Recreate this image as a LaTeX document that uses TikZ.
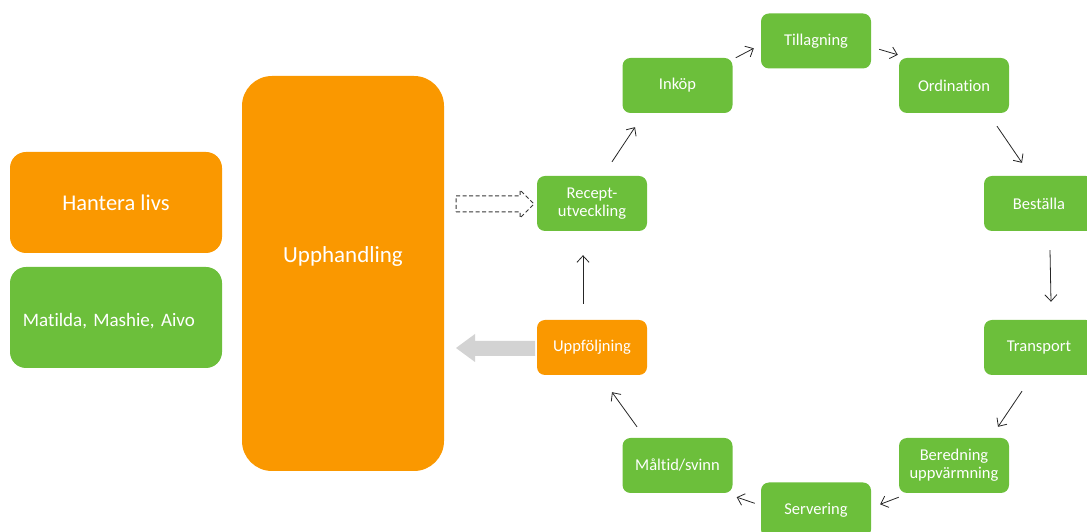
\documentclass[tikz,border=0pt]{standalone}
\usepackage{fontspec}
\setmainfont{Carlito}[Ligatures=NoCommon]
\usetikzlibrary{arrows.meta}
\definecolor{org}{RGB}{250,152,0}
\definecolor{grn}{RGB}{108,191,59}
\definecolor{lgray}{RGB}{211,211,211}
\definecolor{dgray}{RGB}{55,55,55}
\tikzset{
  box/.style={rounded corners=8pt, text=white, minimum width=110pt, minimum height=55pt, inner sep=0pt, align=center, font=\fontsize{16.5}{18}\selectfont},
  gbox/.style={box, fill=grn},
  obox/.style={box, fill=org},
  bigbox/.style={rounded corners=16pt, text=white, minimum width=212pt, minimum height=101pt, inner sep=0pt},
  arr/.style={draw=black!85, line width=0.8pt, -{Straight Barb[length=6.5pt,width=12pt,line width=0.8pt]}}
}
\begin{document}
\begin{tikzpicture}[x=1pt,y=1pt]
\useasboundingbox (0,0) rectangle (1087,532);
\clip (0,0) rectangle (1087,532);
% left boxes
\node[bigbox, fill=org, font=\fontsize{22.5}{26}\selectfont] (hant) at (116,329.5) {Hantera livs};
\node[bigbox, fill=grn, font=\fontsize{19}{22}\selectfont, text width=186pt, align=left] (mat) at (116,214.5) {\frenchspacing\raisebox{-9.5pt}[0pt][0pt]{Matilda, Mashie, Aivo}};
\node[rounded corners=30pt, fill=org, minimum width=202pt, minimum height=395pt, inner sep=0pt] (upph) at (343,258.5) {};
\node[text=white, font=\fontsize{23}{26}\selectfont, inner sep=0pt] (upphl) at (343,276) {Upphandling};
% cycle
\node[gbox] (rec) at (592,328.5) {Recept-\\utveckling};
\node[obox] (upf) at (592,184.5) {Uppföljning};
\node[gbox] (ink) at (677.5,446.5) {Inköp};
\node[gbox] (til) at (816,491) {Tillagning};
\node[gbox] (ord) at (954,446.5) {Ordination};
\node[gbox] (bes) at (1039,328.5) {Beställa};
\node[gbox] (tra) at (1039,184.5) {Transport};
\node[gbox] (ber) at (954,66.5) {Beredning\\uppvärmning};
\node[gbox] (ser) at (816,22) {Servering};
\node[gbox] (mal) at (677.5,66.5) {Måltid/svinn};
% connectors
\draw[arr] ([xshift=20pt,yshift=14pt]rec.north) -- ([xshift=-42.5pt,yshift=-14pt]ink.south);
\draw[arr] ([xshift=3pt,yshift=0pt]ink.north east) -- ([xshift=-7pt,yshift=-35pt]til.north west);
\draw[arr] ([xshift=8pt,yshift=-36pt]til.north east) -- ([xshift=-1pt,yshift=3pt]ord.north west);
\draw[arr] ([xshift=43pt,yshift=-13pt]ord.south) -- ([xshift=-17pt,yshift=13pt]bes.north);
\draw[arr] ([xshift=11pt,yshift=-19pt]bes.south) -- ([xshift=12pt,yshift=18pt]tra.north);
\draw[arr] ([xshift=-17pt,yshift=-16pt]tra.south) -- ([xshift=44pt,yshift=11pt]ber.north);
\draw[arr] ([xshift=0pt,yshift=-4pt]ber.south west) -- ([xshift=9pt,yshift=-22pt]ser.north east);
\draw[arr] ([xshift=-6pt,yshift=-21pt]ser.north west) -- ([xshift=4pt,yshift=-4pt]mal.south east);
\draw[arr] ([xshift=-40.5pt,yshift=11pt]mal.north) -- ([xshift=20pt,yshift=-17pt]upf.south);
\draw[arr] ([xshift=-9pt,yshift=16pt]upf.north) -- ([xshift=-9pt,yshift=-24pt]rec.south);
% block arrows
\draw[dgray, dash pattern=on 4pt off 2.5pt, line width=1pt] (456,320) -- (520,320) -- (520,314) -- (534,328) -- (520,342) -- (520,336) -- (456,336) -- cycle;
\fill[lgray] (535,176) -- (475,176) -- (475,170) -- (456,184) -- (475,198) -- (475,191) -- (535,191) -- cycle;
\end{tikzpicture}
\end{document}
